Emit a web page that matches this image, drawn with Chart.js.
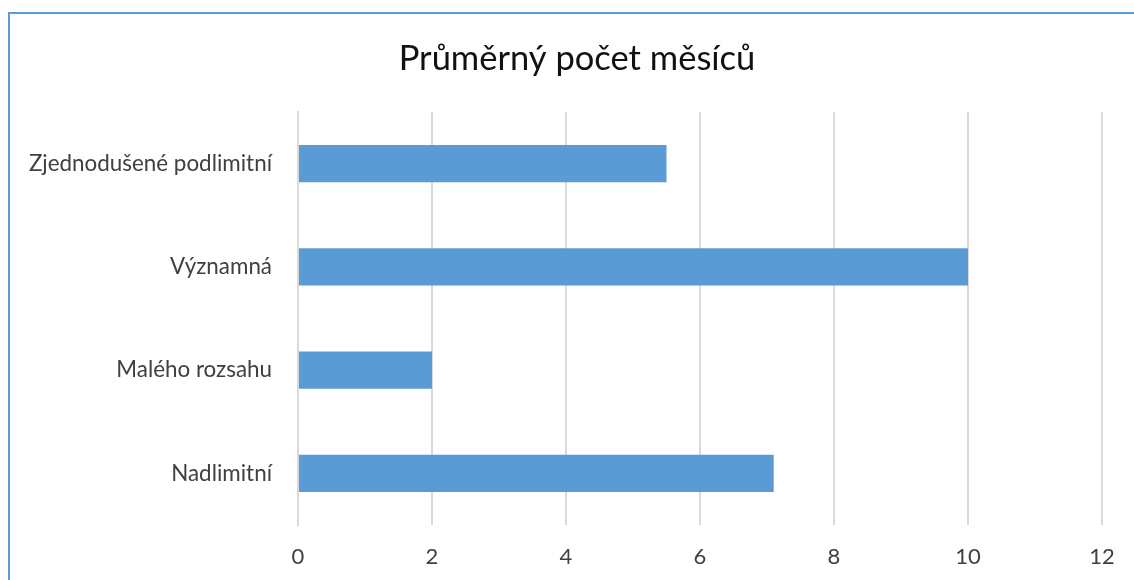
<!DOCTYPE html>
<html>
<head>
<meta charset="utf-8">
<script src="https://cdn.jsdelivr.net/npm/chart.js@4"></script>
<style>
  html, body { margin: 0; padding: 0; background: #fff; overflow: hidden; }
  #wrap { position: relative; width: 1134px; height: 580px; }
  #frame {
    position: absolute; left: 8px; top: 12px; width: 1200px; height: 700px;
    border: 2px solid #5B9BD5; box-sizing: border-box;
  }
  canvas { position: absolute; left: 0; top: 0; }
</style>
</head>
<body>
<div id="wrap">
  <div id="frame"></div>
  <canvas id="chart" width="1134" height="580"></canvas>
</div>
<script>
// Data
const categories = ['Zjednodušené podlimitní', 'Významná', 'Malého rozsahu', 'Nadlimitní'];
const months = [5.5, 10, 2, 7.1];
const xTicks = [0, 2, 4, 6, 8, 10, 12];

const FONT = 'Lato, "Open Sans", sans-serif';
const gridColor = '#d9d9d9';

// the frame runs past the right edge, so centre the title on it rather than on the canvas
const centerTitle = {
    id: 'centerTitle',
    afterLayout(chart) {
        const t = chart.titleBlock;
        if (t) { t.left = 0; t.right = chart.width + 20; t.width = t.right; }
    }
};

const ctx = document.getElementById('chart').getContext('2d');

new Chart(ctx, {
    type: 'bar',
    data: {
        labels: categories,
        datasets: [{
            data: months,
            backgroundColor: '#5B9BD5',
            borderWidth: 0,
            categoryPercentage: 1,
            barPercentage: 0.36
        }]
    },
    options: {
        indexAxis: 'y',
        responsive: false,
        animation: false,
        layout: { padding: { top: 40, left: 0, right: 32, bottom: 0 } },
        plugins: {
            legend: { display: false },
            tooltip: { enabled: false },
            title: {
                display: true,
                text: 'Průměrný počet měsíců',
                color: '#111',
                font: { family: FONT, size: 34.5, weight: 'normal', lineHeight: 1.1 },
                padding: { top: 0, bottom: 34 }
            }
        },
        scales: {
            x: {
                min: xTicks[0],
                max: xTicks[xTicks.length - 1],
                afterBuildTicks: (axis) => { axis.ticks = xTicks.map(v => ({ value: v })); },
                grid: { color: gridColor, lineWidth: 2, drawTicks: false },
                border: { display: false },
                ticks: {
                    color: '#404040',
                    padding: 19,
                    font: { family: FONT, size: 22 }
                },
                afterFit: (axis) => { axis.height = 55; }
            },
            y: {
                grid: { display: false, drawTicks: false },
                border: { display: true, color: gridColor, width: 2 },
                ticks: {
                    color: '#404040',
                    padding: 26,
                    font: { family: FONT, size: 22.4 }
                },
                afterFit: (axis) => { axis.width = 298; }
            }
        }
    },
    plugins: [centerTitle]
});
</script>
</body>
</html>
